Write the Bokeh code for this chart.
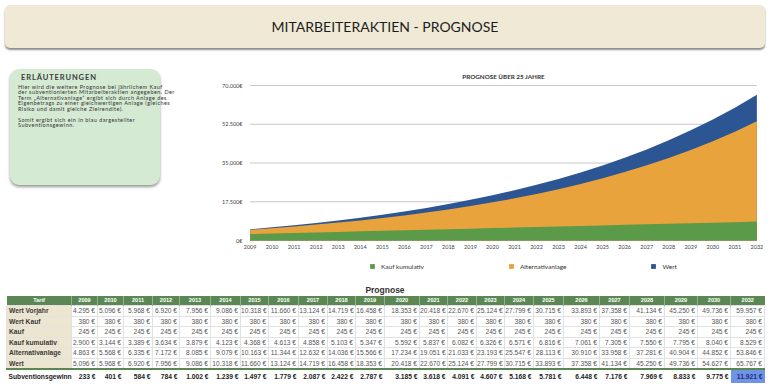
from bokeh.plotting import figure
from bokeh.models import Div, Range1d, FixedTicker, Legend, LegendItem, Label
from bokeh.layouts import column, row
from bokeh.embed import file_html
from bokeh.resources import INLINE

# ---------------- data ----------------
years = [2009, 2010, 2011, 2012, 2013, 2014, 2015, 2016, 2017, 2018, 2019, 2020,
         2021, 2022, 2023, 2024, 2025, 2026, 2027, 2028, 2029, 2030, 2031, 2032]
hidden_table_years = [2031]

wert_vorjahr = [4295, 5096, 5968, 6920, 7956, 9086, 10318, 11660, 13124, 14719, 16458, 18353,
                20418, 22670, 25124, 27799, 30715, 33893, 37358, 41134, 45250, 49736, 54627, 59957]
wert_kauf = [380, 380, 380, 380, 380, 380, 380, 380, 380, 380, 380, 380,
             380, 380, 380, 380, 380, 380, 380, 380, 380, 380, 380, 380]
kauf = [245, 245, 245, 245, 245, 245, 245, 245, 245, 245, 245, 245,
        245, 245, 245, 245, 245, 245, 245, 245, 245, 245, 245, 245]
kauf_kumulativ = [2900, 3144, 3389, 3634, 3879, 4123, 4368, 4613, 4858, 5103, 5347, 5592,
                  5837, 6082, 6326, 6571, 6816, 7061, 7305, 7550, 7795, 8040, 8285, 8529]
alternativanlage = [4863, 5568, 6335, 7172, 8085, 9079, 10163, 11344, 12632, 14036, 15566, 17234,
                    19051, 21033, 23193, 25547, 28113, 30910, 33958, 37281, 40904, 44852, 49155, 53846]
wert = [5096, 5968, 6920, 7956, 9086, 10318, 11660, 13124, 14719, 16458, 18353, 20418,
        22670, 25124, 27799, 30715, 33893, 37358, 41134, 45250, 49736, 54627, 59957, 65767]
subventionsgewinn = [233, 401, 584, 784, 1002, 1239, 1497, 1779, 2087, 2422, 2787, 3185,
                     3618, 4091, 4607, 5168, 5781, 6448, 7176, 7969, 8833, 9775, 10802, 11921]

series_names = ["Kauf kumulativ", "Alternativanlage", "Wert"]
table_row_names = ["Wert Vorjahr", "Wert Kauf", "Kauf", "Kauf kumulativ", "Alternativanlage", "Wert"]
total_row_name = "Subventionsgewinn"

y_ticks = [0, 17500, 35000, 52500, 70000]
y_tick_labels = ["0€", "17.500€", "35.000€", "52.500€", "70.000€"]

page_title = "MITARBEITERAKTIEN - PROGNOSE"
chart_title = "PROGNOSE ÜBER 25 JAHRE"
table_title = "Prognose"
notes_title = "ERLÄUTERUNGEN"
notes_lines = [
    "Hier wird die weitere Prognose bei jährlichem Kauf",
    "der subventionierten Mitarbeiteraktien angegeben. Der",
    "Term „Alternativanlage“ ergibt sich durch Anlage des",
    "Eigenbetrags zu einer gleichwertigen Anlage (gleiches",
    "Risiko und damit gleiche Zielrendite).",
    "",
    "Somit ergibt sich ein in blau dargestellter",
    "Subventionsgewinn.",
]

# ---------------- styles ----------------
GREEN = "#5A9A48"
ORANGE = "#E9A33C"
BLUE = "#2C5594"
TAB_GREEN = "#5A8754"
BEIGE = "#ECE5CF"
CHART_FONT = "Lato"
TABLE_FONT = "'Liberation Sans', Arial, sans-serif"
first_col_w = 65
col_widths = [26, 26, 29, 27, 31, 30, 28, 30, 29, 28, 29, 35, 28, 29, 28, 29, 30, 36, 30, 35, 33, 33, 34]

# chart geometry (pixels inside the chart figure, measured from its top)
FIG_H = 226
PX_TOP_TICK = 33      # where the highest tick (70.000€) sits
PX_ZERO = 188         # where 0€ sits
X_PAD = 0.3           # room (in years) so the outer year labels are not clipped
units_per_px = (y_ticks[-1] - y_ticks[0]) / (PX_ZERO - PX_TOP_TICK)
y_hi = y_ticks[-1] + PX_TOP_TICK * units_per_px
y_lo = y_ticks[0] - (FIG_H - PX_ZERO) * units_per_px

# ---------------- header ----------------
header = Div(
    text=(f'<div style="width:760px;height:43px;margin:5px 0 0 5px;background:#EFE9D6;'
          f'border-radius:5px;box-shadow:0 2px 2px rgba(0,0,0,0.45);display:flex;'
          f'align-items:center;justify-content:center;font-family:Lato;font-size:14px;'
          f'color:#1c1c1c;">{page_title}</div>'),
    width=770, height=52, margin=(0, 0, 0, 0))

# ---------------- explanation box ----------------
notes_html = "<br>".join(notes_lines)
notes = Div(
    text=(f'<div style="position:relative;margin:17px 0 0 10px;width:150px;height:116px;'
          f'background:#D5EAD2;border-radius:9px;box-shadow:0 2px 3px rgba(0,0,0,0.4);'
          f'font-family:Lato;color:#333;">'
          f'<div style="position:absolute;left:11px;top:3.5px;font-size:7.5px;font-weight:bold;'
          f'letter-spacing:0.9px;color:#3a3a3a;">{notes_title}</div>'
          f'<div style="position:absolute;left:8px;top:15.5px;font-size:5.5px;line-height:5.5px;'
          f'letter-spacing:0.45px;white-space:nowrap;">{notes_html}</div></div>'),
    width=175, height=226, margin=(0, 0, 0, 0))

# ---------------- chart ----------------
p = figure(width=595, height=FIG_H, output_backend="svg", toolbar_location=None,
           title_location=None,
           x_range=Range1d(years[0] - X_PAD, years[-1] + X_PAD), y_range=Range1d(y_lo, y_hi),
           min_border_left=68, min_border_right=7, min_border_top=0, min_border_bottom=0,
           margin=(0, 0, 0, 0))
p.outline_line_color = None
p.background_fill_color = "white"
p.border_fill_color = "white"

# horizontal grid lines spanning exactly the years shown
p.xgrid.visible = False
p.ygrid.visible = False
p.segment(x0=[years[0]] * len(y_ticks), x1=[years[-1]] * len(y_ticks),
          y0=y_ticks, y1=y_ticks, line_color="#C8C8C8", line_width=1)

r_wert = p.varea(x=years, y1=[0] * len(years), y2=wert, fill_color=BLUE)
r_alt = p.varea(x=years, y1=[0] * len(years), y2=alternativanlage, fill_color=ORANGE)
r_kauf = p.varea(x=years, y1=[0] * len(years), y2=kauf_kumulativ, fill_color=GREEN)

for ax in (p.xaxis[0], p.yaxis[0]):
    ax.axis_line_color = None
    ax.major_tick_line_color = None
    ax.minor_tick_line_color = None
    ax.major_tick_out = 0
    ax.major_tick_in = 0
    ax.minor_tick_out = 0
    ax.major_label_text_font = CHART_FONT
    ax.major_label_text_font_size = "5.5px"
    ax.major_label_text_color = "#444444"

p.xaxis.ticker = FixedTicker(ticks=years)
p.xaxis.major_label_overrides = {y: str(y) for y in years}
p.xaxis.major_label_standoff = 4
p.xaxis.fixed_location = 0
p.yaxis.ticker = FixedTicker(ticks=y_ticks)
p.yaxis.major_label_overrides = dict(zip(y_ticks, y_tick_labels))
p.yaxis.major_label_standoff = 1

p.add_layout(Label(x=260, y=FIG_H - 23.7, x_units="screen", y_units="screen", text=chart_title,
                   text_align="center", text_baseline="middle", text_font=CHART_FONT,
                   text_font_size="6.3px", text_font_style="bold", text_color="#333333"))

legend = Legend(items=[LegendItem(label=series_names[0], renderers=[r_kauf]),
                       LegendItem(label=series_names[1], renderers=[r_alt]),
                       LegendItem(label=series_names[2], renderers=[r_wert])],
                orientation="horizontal", location=(126, 8),
                glyph_width=6, glyph_height=6, label_height=8, label_width=10,
                label_standoff=6, spacing=84, padding=0, margin=0,
                border_line_color=None, background_fill_alpha=0,
                label_text_font=CHART_FONT, label_text_font_size="6.5px",
                label_text_color="#333333")
p.add_layout(legend, "center")

# ---------------- table ----------------
def fmt(v):
    return f"{v:,}".replace(",", ".") + " €"

vis = [i for i, y in enumerate(years) if y not in hidden_table_years]

cell = ("font-size:6.6px;color:#555;text-align:right;padding:0 2px 0 0;"
        "border:1px solid #E2E2E2;height:9.5px;line-height:9.5px;white-space:nowrap;overflow:visible;")
lab = (f"font-size:6.7px;color:#3a3a3a;font-weight:bold;text-align:left;padding:0 0 0 2px;"
       f"background:{BEIGE};border:1px solid #E2E2E2;height:9.5px;line-height:9.5px;white-space:nowrap;overflow:visible;")
th = (f"font-size:5.6px;color:#fff;font-weight:bold;text-align:center;padding:0;"
      f"background:{TAB_GREEN};border-left:1px solid rgba(255,255,255,0.35);height:9px;line-height:9px;")

html = [f'<div style="font-family:{TABLE_FONT};width:770px;">',
        f'<div style="height:18px;padding:0;line-height:24px;text-align:center;font-weight:bold;'
        f'font-size:8.5px;color:#333;">{table_title}</div>',
        '<table style="border-collapse:collapse;table-layout:fixed;width:758px;margin-left:6px;">',
        '<colgroup>', f'<col style="width:{first_col_w}px">']
html += [f'<col style="width:{w}px">' for w in col_widths]
html.append('</colgroup>')
html.append('<tr>' + f'<td style="{th}">Tarif</td>' +
            ''.join(f'<td style="{th}">{years[i]}</td>' for i in vis) + '</tr>')
for name, vals in zip(table_row_names,
                      [wert_vorjahr, wert_kauf, kauf, kauf_kumulativ, alternativanlage, wert]):
    html.append('<tr>' + f'<td style="{lab}">{name}</td>' +
                ''.join(f'<td style="{cell}">{fmt(vals[i])}</td>' for i in vis) + '</tr>')
tot = (f"font-size:6.7px;color:#222;font-weight:bold;text-align:right;padding:0 2px 0 0;"
       f"border-top:2px solid {TAB_GREEN};height:13px;line-height:13px;white-space:nowrap;")
tot_last = tot + "background:#6F93E6;color:#1D2F7A;"
tot_lab = (f"font-size:6.7px;color:#222;font-weight:bold;text-align:left;padding:0 0 0 2px;"
           f"border-top:2px solid {TAB_GREEN};height:13px;line-height:13px;white-space:nowrap;overflow:visible;")
cells = []
for k, i in enumerate(vis):
    st = tot_last if k == len(vis) - 1 else tot
    cells.append(f'<td style="{st}">{fmt(subventionsgewinn[i])}</td>')
html.append('<tr>' + f'<td style="{tot_lab}">{total_row_name}</td>' + ''.join(cells) + '</tr>')
html.append('</table></div>')

table = Div(text="".join(html), width=770, height=111, margin=(0, 0, 0, 0))

layout = column(header, row(notes, p, margin=(0, 0, 0, 0)), table, margin=(0, 0, 0, 0))

open("out.html", "w").write(file_html(layout, INLINE))
